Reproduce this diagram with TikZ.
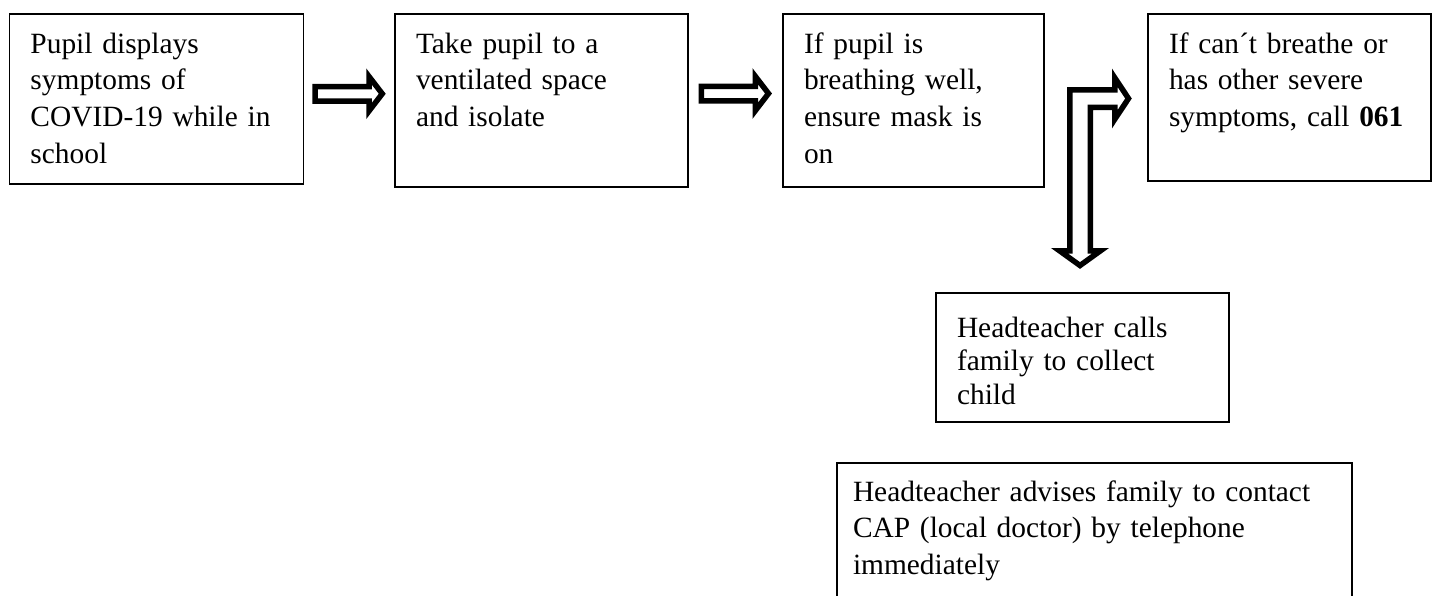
\documentclass[tikz,border=0pt]{standalone}
\usepackage{fontspec}
\setmainfont{Liberation Serif}
\usetikzlibrary{calc}
\hyphenpenalty=10000
\tikzstyle{stepbox} = [draw, line width=1.5pt, anchor=north west, outer sep=0pt, align=left, inner ysep=0pt, inner xsep=21pt, text height=39pt, font=\fontsize{29.4}{36.7}\selectfont]
\tikzstyle{blockarrow} = [draw, line width=5.5pt, line join=miter, miter limit=10, fill=white]

\begin{document}
\begin{tikzpicture}[x=1pt,y=-1pt]
				\useasboundingbox (0,0) rectangle (1433,595);
				% top row
				\node[stepbox, text width=252pt, text depth=131pt] (pupil) at (9.5,14) {Pupil displays\\ symptoms of\\ COVID-19 while in\\ school};
				\node[stepbox, text width=251pt, text depth=134pt] (ventil) at (395,14) {Take pupil to a\\ ventilated space\\ and isolate};
				\node[stepbox, text width=219pt, text depth=134pt] (breath) at (783,14) {If pupil is\\ breathing well,\\ ensure mask is\\ on};
				\node[stepbox, text width=241pt, text depth=128pt] (severe) at (1148,14) {If can´t breathe or\\ has other severe\\ symptoms,~call~\textbf{061}};
				% lower boxes
				\node[stepbox, text width=251pt, text height=44pt, text depth=85pt, font=\fontsize{29.4}{33.5}\selectfont] (calls) at (936,293) {Headteacher calls\\ family to collect\\ child};
				\node[stepbox, inner xsep=16pt, text width=483pt, text height=38pt, text depth=139pt] (advise) at (837,463) {Headteacher advises family to contact\\ CAP (local doctor) by telephone\\ immediately};
				% arrows
				\coordinate (c1) at ($(pupil.east)!0.5!(ventil.west)+(0,-6)$);
				\coordinate (c2) at ($(ventil.east)!0.5!(breath.west)+(0,-7)$);
				\foreach \c in {c1,c2}
					\draw[blockarrow, shift={(\c)}] (-34.25,-7.25) -- (19.75,-7.25) -- (19.75,-17.25) -- (33,0) -- (19.75,17.25) -- (19.75,7.25) -- (-34.25,7.25) -- cycle;
				\draw[blockarrow] (1069.75,250.75) -- (1069.75,89.75) -- (1114.75,89.75) -- (1114.75,77.75) -- (1128.5,98.5) -- (1114.75,119.25) -- (1114.75,107.25) -- (1090.25,107.25) -- (1090.25,250.75) -- (1100.5,250.75) -- (1080,265.5) -- (1059.5,250.75) -- cycle;
			\end{tikzpicture}
\end{document}
